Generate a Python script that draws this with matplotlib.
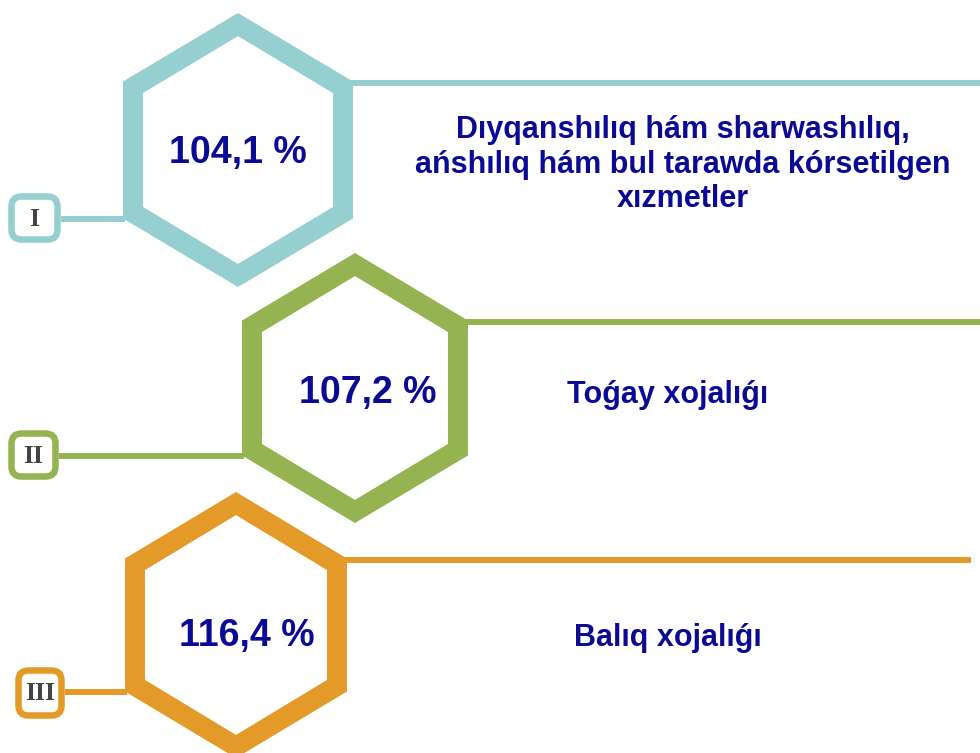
import matplotlib
matplotlib.use("Agg")
import matplotlib.pyplot as plt
from matplotlib.patches import Polygon, FancyBboxPatch

# data
values = [104.1, 107.2, 116.4]
categories = ["Dıyqanshılıq hám sharwashılıq,\nańshılıq hám bul tarawda kórsetilgen\nxızmetler",
              "Toǵay xojalıǵı",
              "Balıq xojalıǵı"]
numerals = ["I", "II", "III"]
colors = ["#96CFCF", "#95B451", "#E39A28"]
text_color = "#0a0a94"

# layout (pixel coords, y down)
hex_center = [(238, 150), (355, 388), (236, 625)]
hex_hh = [137, 135, 133]
hex_hw = [115, 113, 111]
ring = 20
value_pos = [(238, 163), (368, 403), (247, 646)]
label_x = [683, 668, 668]
label_base = [138, 403, 646]
line_step = 34.5
line_end = [980, 980, 971]
boxes = [(8, 193, 61, 243), (8, 430, 59, 480), (15, 667, 65, 719)]

px = 72 / 100  # pixel -> points

def hexagon(cx, cy, hh, hw):
    return [(cx, cy - hh), (cx + hw, cy - hh / 2), (cx + hw, cy + hh / 2),
            (cx, cy + hh), (cx - hw, cy + hh / 2), (cx - hw, cy - hh / 2)]

fig = plt.figure(figsize=(9.8, 7.53), dpi=100)
ax = fig.add_axes([0, 0, 1, 1])
ax.set_xlim(0, 980)
ax.set_ylim(753, 0)
ax.set_aspect("equal")
ax.axis("off")

for i in range(3):
    cx, cy = hex_center[i]
    hh, hw = hex_hh[i], hex_hw[i]
    c = colors[i]

    # line to the right from upper-right vertex
    ax.plot([cx + hw - 2, line_end[i]], [cy - hh / 2 + 1, cy - hh / 2 + 1],
            color=c, lw=6 * px, solid_capstyle="butt", zorder=1)

    # connector from numeral box to lower-left vertex
    x0, y0, x1, y1 = boxes[i]
    ax.plot([x1, cx - hw + 2], [cy + hh / 2, cy + hh / 2],
            color=c, lw=6 * px, solid_capstyle="butt", zorder=1)

    # hexagon ring
    ax.add_patch(Polygon(hexagon(cx, cy, hh, hw), closed=True, facecolor=c,
                         edgecolor="none", zorder=2))
    ax.add_patch(Polygon(hexagon(cx, cy, hh - ring / 0.866, hw - ring), closed=True,
                         facecolor="white", edgecolor="none", zorder=3))

    # numeral box
    ax.add_patch(FancyBboxPatch((x0 + 3.5, y0 + 3.5), x1 - x0 - 7, y1 - y0 - 7,
                                boxstyle="round,pad=0,rounding_size=10",
                                facecolor="white", edgecolor=c, lw=6.5 * px, zorder=4))
    ax.text((x0 + x1) / 2, (y0 + y1) / 2 + 1, numerals[i], ha="center", va="center",
            fontsize=18.5, fontweight="bold", family="Liberation Serif",
            color="#444444", zorder=5)

    # value
    vx, vy = value_pos[i]
    ax.text(vx, vy, f"{values[i]:.1f}".replace(".", ",") + " %", ha="center",
            va="baseline", fontsize=27, fontweight="bold", family="Liberation Sans",
            color=text_color, zorder=5)

    # category label
    for k, line in enumerate(categories[i].split("\n")):
        ax.text(label_x[i], label_base[i] + k * line_step, line, ha="center",
                va="baseline", fontsize=22, fontweight="bold",
                family="Liberation Sans", color=text_color, zorder=5)

fig.savefig("out.png", dpi=100)
